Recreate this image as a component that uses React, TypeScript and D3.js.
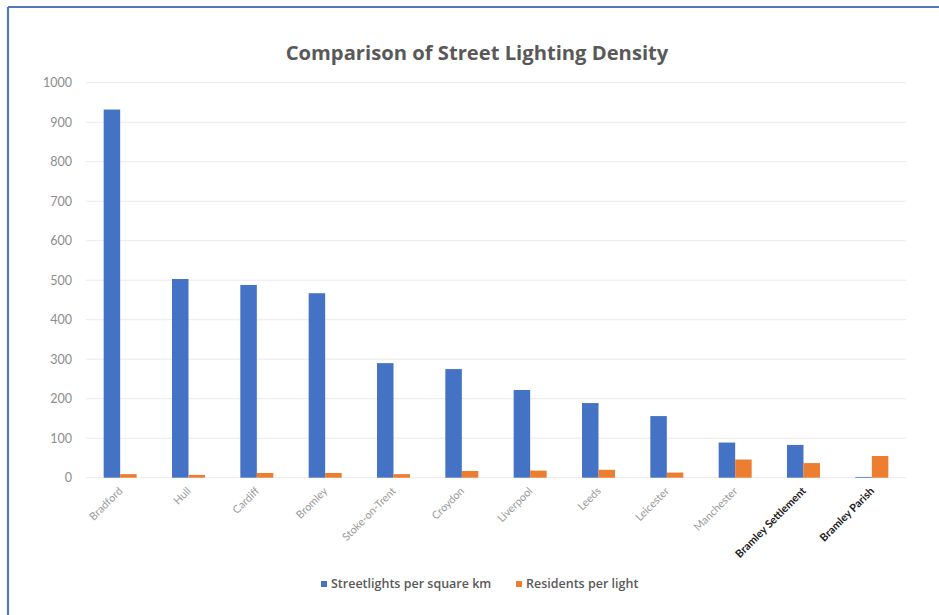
import React from "react";
import * as d3 from "d3";

const categories = [
  "Bradford", "Hull", "Cardiff", "Bromley", "Stoke-on-Trent", "Croydon",
  "Liverpool", "Leeds", "Leicester", "Manchester", "Bramley Settlement", "Bramley Parish",
];
const boldCategories = ["Bramley Settlement", "Bramley Parish"];
const streetlightsPerKm = [932, 503, 488, 467, 290, 275, 222, 189, 156, 89, 83, 2];
const residentsPerLight = [9, 7, 12, 12, 9, 17, 18, 20, 13, 46, 37, 55];
const yTicks = [0, 100, 200, 300, 400, 500, 600, 700, 800, 900, 1000];
const seriesNames = ["Streetlights per square km", "Residents per light"];
const seriesColors = ["#4472C4", "#ED7D31"];

const W = 939;
const H = 615;
const M = { left: 86, right: 906, top: 82.7, bottom: 477.7 };

export default function App() {
  const x = d3.scaleBand<string>().domain(categories).range([M.left, M.right]).paddingInner(0.517).paddingOuter(0.2585);
  const xs = d3.scaleBand<number>().domain([0, 1]).range([0, x.bandwidth()]);
  const y = d3.scaleLinear().domain([0, 1000]).range([M.bottom, M.top]);
  const series = [streetlightsPerKm, residentsPerLight];
  const font = "Lato, 'Open Sans', 'Liberation Sans', sans-serif";

  return (
    <svg width={W} height={H} style={{ position: "absolute", left: 0, top: 0, background: "#fff" }} fontFamily={font}>
      <rect x={0} y={0} width={W} height={H} fill="#fff" />
      <line x1={8} y1={7} x2={W} y2={7} stroke="#5478B8" strokeWidth={2.2} />
      <line x1={8} y1={7} x2={8} y2={H} stroke="#5478B8" strokeWidth={2.2} />
      <text x={477} y={60} textAnchor="middle" fontSize={20.2} fontWeight="bold" fill="#595959"
        fontFamily="'Open Sans', Lato, sans-serif">
        Comparison of Street Lighting Density
      </text>
      {yTicks.map((t) => (
        <g key={t}>
          <line x1={M.left} x2={M.right} y1={y(t)} y2={y(t)} stroke="#EAEAEA" strokeWidth={1} />
          <text x={72} y={y(t)} dy="0.35em" textAnchor="end" fontSize={12.5} fill="#8C8C8C">{t}</text>
        </g>
      ))}
      {categories.map((c, i) => (
        <g key={c}>
          {series.map((s, j) => (
            <rect key={j} x={(x(c) as number) + (xs(j) as number)} width={xs.bandwidth()}
              y={y(s[i])} height={y(0) - y(s[i])} fill={seriesColors[j]} />
          ))}
          <text
            transform={`translate(${(x(c) as number) + x.bandwidth() / 2 + 3},${M.bottom + 14}) rotate(-45)`}
            textAnchor="end" fontSize={10.8}
            fill={boldCategories.includes(c) ? "#1a1a1a" : "#999999"}
            fontWeight={boldCategories.includes(c) ? "bold" : "normal"}
          >{c}</text>
        </g>
      ))}
      {seriesNames.map((n, j) => {
        const lx = j === 0 ? 321 : 516;
        return (
          <g key={n}>
            <rect x={lx} y={581} width={6} height={6} fill={seriesColors[j]} />
            <text x={lx + 10} y={584} dy="0.35em" fontSize={12.5} fontWeight={600} fill="#595959"
              fontFamily="'Open Sans', Lato, sans-serif">{n}</text>
          </g>
        );
      })}
    </svg>
  );
}
